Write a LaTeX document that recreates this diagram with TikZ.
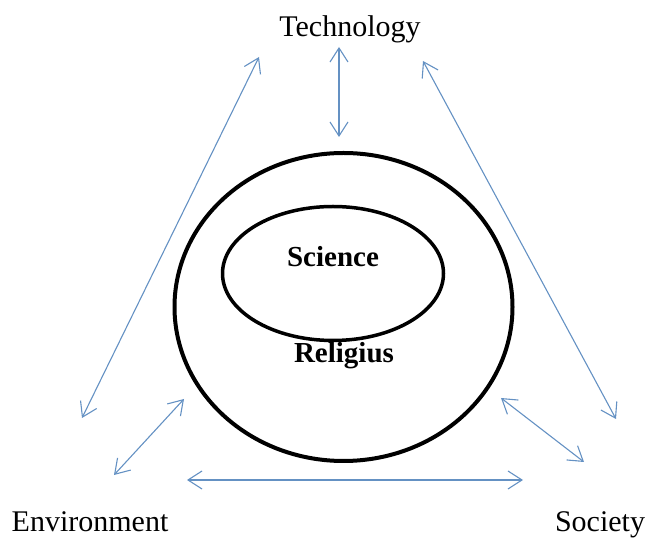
\documentclass[tikz,border=0pt]{standalone}
\usepackage{fontspec}
\setmainfont{Liberation Serif}
\usetikzlibrary{arrows.meta}

\definecolor{arrowblue}{RGB}{100,145,195}

\begin{document}
\begin{tikzpicture}[x=1pt,y=1pt,>={Straight Barb[length=14pt,width=18pt]}]
    \useasboundingbox (0,0) rectangle (646,538);

    % Labels
    \node[anchor=base,font=\fontsize{30}{32}\selectfont] (tech) at (350,501) {Technology};
    \node[anchor=base,font=\fontsize{30}{32}\selectfont] (env)  at (90,6)    {Environment};
    \node[anchor=base,font=\fontsize{30}{32}\selectfont] (soc)  at (600,6)   {Society};

    % Ellipses
    \draw[line width=4pt]   (343.5,231) ellipse (169 and 154);
    \draw[line width=3.5pt] (333,264.5) ellipse (110.5 and 67);

    \node[anchor=base,font=\bfseries\fontsize{29}{31}\selectfont] (sci) at (333,271) {Science};
    \node[anchor=base,font=\bfseries\fontsize{29}{31}\selectfont] (rel) at (344,175) {Religius};

    % Arrow ends
    \coordinate (envA) at (82,120);
    \coordinate (techA) at (259,481);
    \coordinate (techB) at (339,491);
    \coordinate (relB) at (339,401);
    \coordinate (techC) at (423,477);
    \coordinate (socC) at (616,119);
    \coordinate (envD) at (114,63);
    \coordinate (relD) at (184,139);
    \coordinate (envE) at (187,58);
    \coordinate (socE) at (523,58);
    \coordinate (relF) at (501,140);
    \coordinate (socF) at (584,76);

    % Arrows
    \draw[<->,line width=1.1pt,arrowblue] (envA) -- (techA);
    \draw[<->,line width=1.1pt,arrowblue] (techB) -- (relB);
    \draw[<->,line width=1.1pt,arrowblue] (techC) -- (socC);
    \draw[<->,line width=1.1pt,arrowblue] (envD) -- (relD);
    \draw[<->,line width=1.1pt,arrowblue] (envE) -- (socE);
    \draw[<->,line width=1.1pt,arrowblue] (relF) -- (socF);
\end{tikzpicture}
\end{document}
